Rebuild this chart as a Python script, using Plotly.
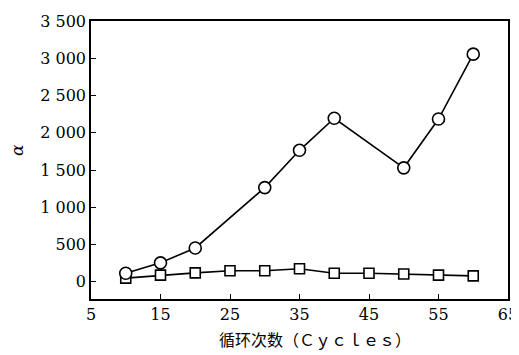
import plotly.graph_objects as go

cycles_c = [10, 15, 20, 30, 35, 40, 50, 55, 60]
alpha_c = [115, 255, 455, 1265, 1765, 2195, 1530, 2185, 3055]
cycles_s = [10, 15, 20, 25, 30, 35, 40, 45, 50, 55, 60]
alpha_s = [50, 90, 120, 150, 150, 175, 115, 115, 105, 90, 80]

yticks = [0, 500, 1000, 1500, 2000, 2500, 3000, 3500]
ytext = ["0", "500", "1 000", "1 500", "2 000", "2 500", "3 000", "3 500"]
xticks = [5, 15, 25, 35, 45, 55, 65]

SERIF = "DejaVu Serif"
OFF = 8  # page body margin
W, H = 519 - OFF, 355 - OFF
L, R, T, B = 91 - OFF, 11, 21 - OFF, 56
PW, PH = W - L - R, H - T - B

fig = go.Figure()
fig.add_trace(go.Scatter(x=cycles_s, y=alpha_s, mode="lines+markers",
                         line=dict(color="black", width=1.6),
                         marker=dict(symbol="square", size=10, color="white",
                                     line=dict(color="black", width=1.6))))
fig.add_trace(go.Scatter(x=cycles_c, y=alpha_c, mode="lines+markers",
                         line=dict(color="black", width=1.6),
                         marker=dict(symbol="circle", size=12, color="white",
                                     line=dict(color="black", width=1.6))))

font = dict(family=SERIF, size=16, color="black")
fig.update_layout(
    width=W, height=H, showlegend=False,
    margin=dict(l=L, r=R, t=T, b=B),
    paper_bgcolor="white", plot_bgcolor="white", font=font,
    xaxis=dict(range=[5, 65], tickvals=xticks, ticks="inside", ticklen=5,
               tickcolor="black", showline=True, linecolor="black", linewidth=1.5,
               mirror=True, showgrid=False, zeroline=False, automargin=False,
               tickfont=dict(family=SERIF, size=16)),
    yaxis=dict(range=[-230, 3500], tickvals=yticks, ticktext=ytext, ticks="inside",
               ticklen=5, tickcolor="black", showline=True, linecolor="black",
               linewidth=1.5, mirror=True, showgrid=False, zeroline=False,
               automargin=False, tickfont=dict(family=SERIF, size=16)),
    annotations=[
        dict(text="<i>α</i>", xref="paper", yref="paper",
             x=(17 - OFF - L) / PW, y=1 - (150 - OFF - T) / PH,
             xanchor="center", yanchor="middle", showarrow=False,
             textangle=-90, font=dict(family=SERIF, size=17)),
        dict(text="循环次数（Ｃｙｃｌｅｓ）", xref="paper", yref="paper",
             x=(315 - OFF - L) / PW, y=1 - (340 - OFF - T) / PH,
             xanchor="center", yanchor="middle", showarrow=False,
             font=dict(family=SERIF + ", Noto Sans CJK SC", size=16)),
    ],
)
fig.write_html("out.html")
